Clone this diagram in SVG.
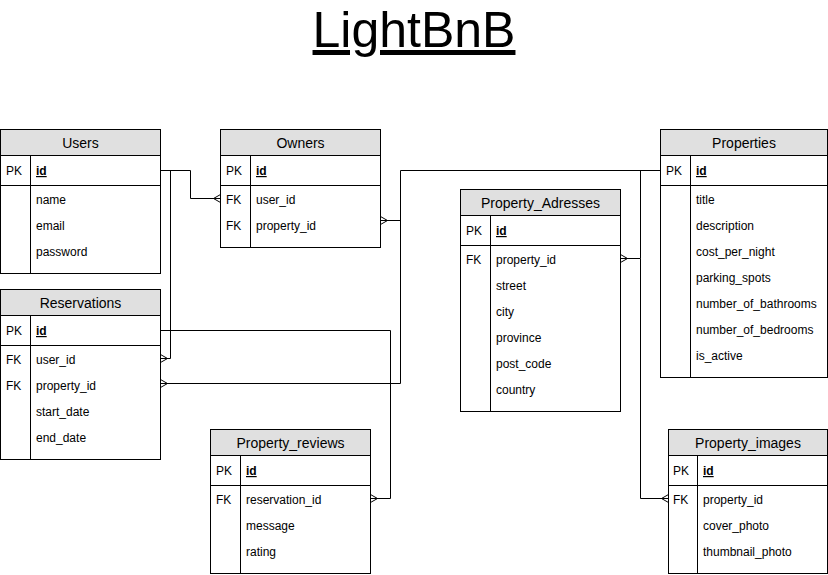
<svg xmlns="http://www.w3.org/2000/svg" width="828" height="575" viewBox="0 0 828 575">
<style>
.box{fill:#ffffff;stroke:#000000;stroke-width:1}
.hd{fill:#e0e0e0;stroke:#000000;stroke-width:1}
.ln{stroke:#000000;stroke-width:1;fill:none}
.c{fill:none;stroke:#000000;stroke-width:1}
text{font-family:"Liberation Sans",Arial,Helvetica,sans-serif;fill:#000000}
.h{font-size:14px;text-anchor:middle}
.f{font-size:12px}
.pk{font-size:12px;font-weight:bold;text-decoration:underline}
.title{font-size:50px;text-anchor:middle;text-decoration:underline}
</style>
<defs>
<marker id="many" markerUnits="userSpaceOnUse" markerWidth="10" markerHeight="10" viewBox="0 0 10 10" refX="7" refY="5" orient="auto">
<path d="M0,5 L7,1 M0,5 L7,5 M0,5 L7,9" fill="none" stroke="#000000" stroke-width="1"/>
</marker>
</defs>
<rect x="0" y="0" width="828" height="575" fill="#ffffff"/>
<text class="title" x="414" y="47">LightBnB</text>

<g id="users">
<rect class="box" x="0.5" y="129.5" width="160" height="144"/>
<rect class="hd" x="0.5" y="129.5" width="160" height="26"/>
<line class="ln" x1="0.5" y1="185.5" x2="160.5" y2="185.5"/>
<line class="ln" x1="30.5" y1="155.5" x2="30.5" y2="273.5"/>
<text class="h" x="80.5" y="148">Users</text>
<text class="f" x="6" y="175">PK</text>
<text class="pk" x="36" y="175">id</text>
<text class="f" x="36" y="203.5">name</text>
<text class="f" x="36" y="229.5">email</text>
<text class="f" x="36" y="255.5">password</text>
</g>

<g id="owners">
<rect class="box" x="220.5" y="129.5" width="160" height="118"/>
<rect class="hd" x="220.5" y="129.5" width="160" height="26"/>
<line class="ln" x1="220.5" y1="185.5" x2="380.5" y2="185.5"/>
<line class="ln" x1="250.5" y1="155.5" x2="250.5" y2="247.5"/>
<text class="h" x="300.5" y="148">Owners</text>
<text class="f" x="226" y="175">PK</text>
<text class="pk" x="256" y="175">id</text>
<text class="f" x="226" y="203.5">FK</text>
<text class="f" x="256" y="203.5">user_id</text>
<text class="f" x="226" y="229.5">FK</text>
<text class="f" x="256" y="229.5">property_id</text>
</g>

<g id="reservations">
<rect class="box" x="0.5" y="289.5" width="160" height="170"/>
<rect class="hd" x="0.5" y="289.5" width="160" height="26"/>
<line class="ln" x1="0.5" y1="345.5" x2="160.5" y2="345.5"/>
<line class="ln" x1="30.5" y1="315.5" x2="30.5" y2="459.5"/>
<text class="h" x="80.5" y="308">Reservations</text>
<text class="f" x="6" y="335">PK</text>
<text class="pk" x="36" y="335">id</text>
<text class="f" x="6" y="363.5">FK</text>
<text class="f" x="36" y="363.5">user_id</text>
<text class="f" x="6" y="389.5">FK</text>
<text class="f" x="36" y="389.5">property_id</text>
<text class="f" x="36" y="415.5">start_date</text>
<text class="f" x="36" y="441.5">end_date</text>
</g>

<g id="property_reviews">
<rect class="box" x="210.5" y="429.5" width="160" height="144"/>
<rect class="hd" x="210.5" y="429.5" width="160" height="26"/>
<line class="ln" x1="210.5" y1="485.5" x2="370.5" y2="485.5"/>
<line class="ln" x1="240.5" y1="455.5" x2="240.5" y2="573.5"/>
<text class="h" x="290.5" y="448">Property_reviews</text>
<text class="f" x="216" y="475">PK</text>
<text class="pk" x="246" y="475">id</text>
<text class="f" x="216" y="503.5">FK</text>
<text class="f" x="246" y="503.5">reservation_id</text>
<text class="f" x="246" y="529.5">message</text>
<text class="f" x="246" y="555.5">rating</text>
</g>

<g id="property_adresses">
<rect class="box" x="460.5" y="189.5" width="160" height="222"/>
<rect class="hd" x="460.5" y="189.5" width="160" height="26"/>
<line class="ln" x1="460.5" y1="245.5" x2="620.5" y2="245.5"/>
<line class="ln" x1="490.5" y1="215.5" x2="490.5" y2="411.5"/>
<text class="h" x="540.5" y="208">Property_Adresses</text>
<text class="f" x="466" y="235">PK</text>
<text class="pk" x="496" y="235">id</text>
<text class="f" x="466" y="263.5">FK</text>
<text class="f" x="496" y="263.5">property_id</text>
<text class="f" x="496" y="289.5">street</text>
<text class="f" x="496" y="315.5">city</text>
<text class="f" x="496" y="341.5">province</text>
<text class="f" x="496" y="367.5">post_code</text>
<text class="f" x="496" y="393.5">country</text>
</g>

<g id="properties">
<rect class="box" x="660.5" y="129.5" width="167" height="248"/>
<rect class="hd" x="660.5" y="129.5" width="167" height="26"/>
<line class="ln" x1="660.5" y1="185.5" x2="827.5" y2="185.5"/>
<line class="ln" x1="690.5" y1="155.5" x2="690.5" y2="377.5"/>
<text class="h" x="744" y="148">Properties</text>
<text class="f" x="666" y="175">PK</text>
<text class="pk" x="696" y="175">id</text>
<text class="f" x="696" y="203.5">title</text>
<text class="f" x="696" y="229.5">description</text>
<text class="f" x="696" y="255.5">cost_per_night</text>
<text class="f" x="696" y="281.5">parking_spots</text>
<text class="f" x="696" y="307.5">number_of_bathrooms</text>
<text class="f" x="696" y="333.5">number_of_bedrooms</text>
<text class="f" x="696" y="359.5">is_active</text>
</g>

<g id="property_images">
<rect class="box" x="668.5" y="429.5" width="159" height="144"/>
<rect class="hd" x="668.5" y="429.5" width="159" height="26"/>
<line class="ln" x1="668.5" y1="485.5" x2="827.5" y2="485.5"/>
<line class="ln" x1="697.5" y1="455.5" x2="697.5" y2="573.5"/>
<text class="h" x="748" y="448">Property_images</text>
<text class="f" x="673" y="475">PK</text>
<text class="pk" x="703" y="475">id</text>
<text class="f" x="673" y="503.5">FK</text>
<text class="f" x="703" y="503.5">property_id</text>
<text class="f" x="703" y="529.5">cover_photo</text>
<text class="f" x="703" y="555.5">thumbnail_photo</text>
</g>

<g id="connectors">
<path class="c" d="M160.5,170.5 H190.5 V198.5 H220.5" marker-end="url(#many)"/>
<path class="c" d="M160.5,170.5 H170.5 V358.5 H160.5" marker-end="url(#many)"/>
<path class="c" d="M660.5,170.5 H400.5 V383.5 H160.5" marker-end="url(#many)"/>
<path class="c" d="M400.5,220.5 H380.5" marker-end="url(#many)"/>
<path class="c" d="M660.5,170.5 H640.5 V258.5 H620.5" marker-end="url(#many)"/>
<path class="c" d="M640.5,258.5 V498.5 H668.5" marker-end="url(#many)"/>
<path class="c" d="M160.5,330.5 H390.5 V498.5 H370.5" marker-end="url(#many)"/>
</g>
</svg>
